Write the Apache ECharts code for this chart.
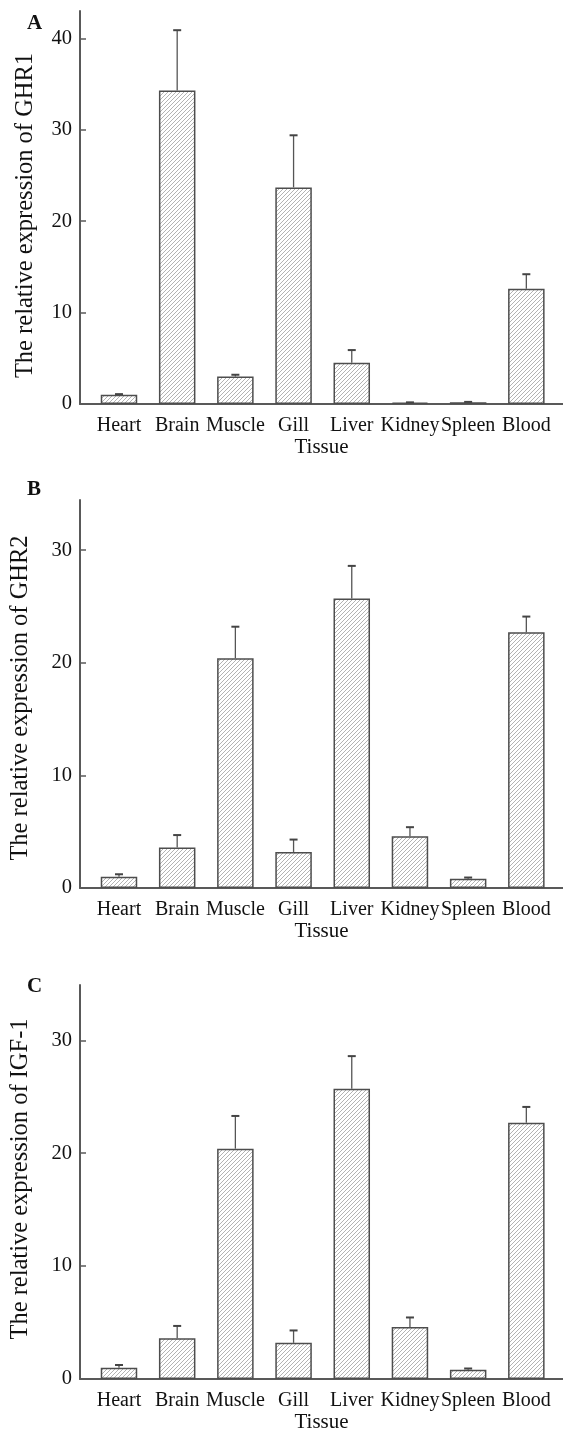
<!DOCTYPE html>
<html>
<head>
<meta charset="utf-8">
<script src="https://cdn.jsdelivr.net/npm/echarts@6/dist/echarts.min.js"></script>
<style>
  html, body { margin: 0; padding: 0; background: #fff; }
  #main { width: 563px; height: 1440px; }
</style>
</head>
<body>
<div id="main"></div>
<script>
// tissues and values
var tissues = ["Heart", "Brain", "Muscle", "Gill", "Liver", "Kidney", "Spleen", "Blood"];
var ghr1 = [1.0, 34.3, 3.0, 23.7, 4.5, 0.15, 0.18, 12.6];
var ghr1Err = [0.08, 6.6, 0.2, 5.7, 1.4, 0.03, 0.05, 1.6];
var ghr2 = [1.0, 3.6, 20.4, 3.2, 25.7, 4.6, 0.83, 22.7];
var ghr2Err = [0.22, 1.1, 2.8, 1.1, 2.9, 0.8, 0.1, 1.4];
var igf1 = [1.0, 3.6, 20.4, 3.2, 25.7, 4.6, 0.83, 22.7];
var igf1Err = [0.24, 1.1, 2.9, 1.1, 2.9, 0.85, 0.1, 1.4];
var yTicksA = [0, 10, 20, 30, 40];
var yTicksBC = [0, 10, 20, 30];

var serif = "Liberation Serif";
var axisGray = "#595959";

// hatch fill ////
function hatch() {
  var c = document.createElement("canvas");
  c.width = 4;
  c.height = 4;
  var g = c.getContext("2d");
  g.fillStyle = "#fff";
  g.fillRect(0, 0, 4, 4);
  g.strokeStyle = "#a0a0a0";
  g.lineWidth = 0.8;
  g.beginPath();
  g.moveTo(0, 4); g.lineTo(4, 0);
  g.moveTo(-1, 1); g.lineTo(1, -1);
  g.moveTo(3, 5); g.lineTo(5, 3);
  g.stroke();
  return c;
}
var pattern = { image: hatch(), repeat: "repeat" };

var panels = [
  { name: "The relative expression of GHR1", vals: ghr1, err: ghr1Err, ticks: yTicksA, max: 43, top: 11, height: 393, gap: 42, pad: [0, 16, 0, 0] },
  { name: "The relative expression of GHR2", vals: ghr2, err: ghr2Err, ticks: yTicksBC, max: 34.45, top: 500, height: 388, gap: 47, pad: [0, 8, 0, 0] },
  { name: "The relative expression of IGF-1", vals: igf1, err: igf1Err, ticks: yTicksBC, max: 34.9, top: 985, height: 394, gap: 47, pad: [0, 0, 0, 6] }
];

var grid = [], xAxis = [], yAxis = [], series = [];
panels.forEach(function (p, i) {
  grid.push({ left: 80, right: 0, top: p.top, height: p.height });
  xAxis.push({
    type: "value", gridIndex: i, min: 0.33, max: 8.63,
    name: "Tissue", nameLocation: "middle", nameGap: 32,
    nameTextStyle: { fontFamily: serif, fontSize: 21, color: "#111" },
    axisLine: { show: true, lineStyle: { color: axisGray, width: 2 } },
    axisTick: { show: false },
    splitLine: { show: false },
    axisLabel: {
      customValues: tissues.map(function (t, k) { return k + 1; }),
      formatter: function (v) { return tissues[Math.round(v) - 1]; },
      fontFamily: serif, fontSize: 20, color: "#111", margin: 12
    }
  });
  yAxis.push({
    type: "value", gridIndex: i, min: 0, max: p.max,
    name: p.name, nameLocation: "middle", nameGap: p.gap,
    nameTextStyle: { fontFamily: serif, fontSize: 24.5, color: "#111", padding: p.pad },
    axisLine: { show: true, lineStyle: { color: axisGray, width: 2 } },
    axisTick: { show: true, inside: true, length: 6, customValues: p.ticks, lineStyle: { color: axisGray, width: 1.5 } },
    splitLine: { show: false },
    axisLabel: { customValues: p.ticks, fontFamily: serif, fontSize: 20.5, color: "#111", margin: 8 }
  });
  series.push({
    type: "bar", xAxisIndex: i, yAxisIndex: i, barWidth: 36.5,
    data: p.vals.map(function (v, k) { return [k + 1, v]; }),
    itemStyle: { color: pattern, borderColor: "#4d4d4d", borderWidth: 1.5 }
  });
  series.push({
    type: "custom", xAxisIndex: i, yAxisIndex: i, z: 3,
    data: p.vals.map(function (v, k) { return [k + 1, v, v + p.err[k]]; }),
    renderItem: function (params, api) {
      var base = api.coord([api.value(0), api.value(1)]);
      var top = api.coord([api.value(0), api.value(2)]);
      var st = { stroke: "#555", lineWidth: 1.3 };
      return {
        type: "group",
        children: [
          { type: "line", shape: { x1: base[0], y1: base[1], x2: top[0], y2: top[1] }, style: st },
          { type: "line", shape: { x1: top[0] - 4, y1: top[1], x2: top[0] + 4, y2: top[1] }, style: { stroke: "#444", lineWidth: 2 } }
        ]
      };
    }
  });
});

var letterStyle = { fontFamily: serif, fontWeight: "bold", fontSize: 21, color: "#111" };
var chart = echarts.init(document.getElementById("main"));
chart.setOption({
  animation: false,
  backgroundColor: "#fff",
  title: [
    { text: "A", left: 27, top: 13, padding: 0, textStyle: letterStyle },
    { text: "B", left: 27, top: 479, padding: 0, textStyle: letterStyle },
    { text: "C", left: 27, top: 976, padding: 0, textStyle: letterStyle }
  ],
  grid: grid,
  xAxis: xAxis,
  yAxis: yAxis,
  series: series
});
</script>
</body>
</html>
